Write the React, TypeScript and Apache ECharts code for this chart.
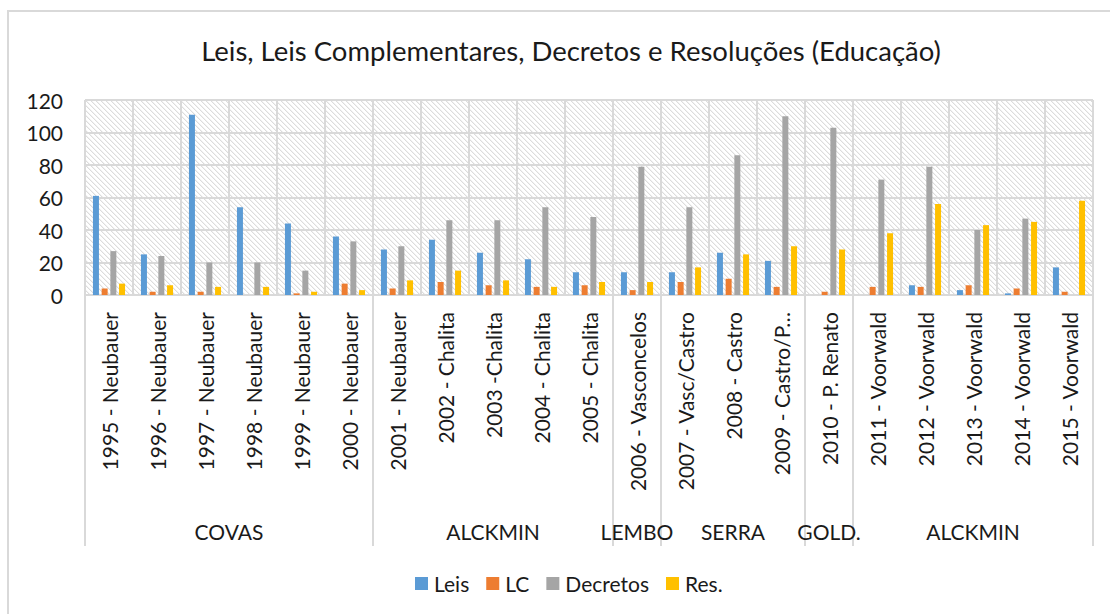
import React, { useEffect, useRef } from "react";
import * as echarts from "echarts";

const categories = [
  "1995 - Neubauer", "1996 - Neubauer", "1997 - Neubauer", "1998 - Neubauer",
  "1999 - Neubauer", "2000 - Neubauer", "2001 - Neubauer", "2002 - Chalita",
  "2003 -Chalita", "2004 - Chalita", "2005 - Chalita", "2006 - Vasconcelos",
  "2007 - Vasc/Castro", "2008 - Castro", "2009 - Castro/P…", "2010 - P. Renato",
  "2011 - Voorwald", "2012 - Voorwald", "2013 - Voorwald", "2014 - Voorwald",
  "2015 - Voorwald",
];

const leis = [61, 25, 111, 54, 44, 36, 28, 34, 26, 22, 14, 14, 14, 26, 21, 0, 0, 6, 3, 1, 17];
const lc = [4, 2, 2, 0, 1, 7, 4, 8, 6, 5, 6, 3, 8, 10, 5, 2, 5, 5, 6, 4, 2];
const decretos = [27, 24, 20, 20, 15, 33, 30, 46, 46, 54, 48, 79, 54, 86, 110, 103, 71, 79, 40, 47, 0];
const res = [7, 6, 5, 5, 2, 3, 9, 15, 9, 5, 8, 8, 17, 25, 30, 28, 38, 56, 43, 45, 58];

const groupNames = ["COVAS", "ALCKMIN", "LEMBO", "SERRA", "GOLD.", "ALCKMIN"];
const groupSizes = [6, 5, 1, 3, 1, 5];

const yTicks = { min: 0, max: 120, interval: 20 };

const FONT = "Lato";
const TXT = "#1a1a1a";
const GRID = "#d9d9d9";

function makeHatch(): string {
  const c = document.createElement("canvas");
  const n = 5;
  c.width = n;
  c.height = n;
  const ctx = c.getContext("2d")!;
  const img = ctx.createImageData(n, n);
  for (let y = 0; y < n; y++) {
    for (let x = 0; x < n; x++) {
      const d = (x - y + n * 2) % n;
      const i = (y * n + x) * 4;
      let v = 255;
      if (d === 0) v = 220;
      else if (d === 1) v = 242;
      img.data[i] = v;
      img.data[i + 1] = v;
      img.data[i + 2] = v;
      img.data[i + 3] = 255;
    }
  }
  ctx.putImageData(img, 0, 0);
  return c.toDataURL("image/png");
}

export default function App() {
  const ref = useRef<HTMLDivElement>(null);
  useEffect(() => {
    if (!ref.current) return;
    const chart = echarts.init(ref.current, null, { renderer: "svg" });
    const gridLeft = 85, gridTop = 100, gridW = 1008, gridH = 195;
    const hatch = makeHatch();
    const mk = (name: string, data: number[], color: string) => ({
      name,
      type: "bar",
      data,
      barWidth: 6,
      barGap: "45%",
      itemStyle: { color },
    });
    chart.setOption({
      animation: false,
      backgroundColor: "#ffffff",
      title: {
        text: "Leis, Leis Complementares, Decretos e Resoluções (Educação)",
        left: 566,
        textAlign: "center",
        top: 31,
        textStyle: { fontFamily: FONT, fontSize: 27.5, fontWeight: "normal", color: TXT },
      },
      legend: {
        left: 410,
        top: 568,
        itemWidth: 13,
        itemHeight: 13,
        itemGap: 17,
        icon: "rect",
        textStyle: { fontFamily: FONT, fontSize: 21, color: TXT, padding: [0, 0, 0, 1] },
      },
      grid: { left: gridLeft, top: gridTop, width: gridW, height: gridH, containLabel: false },
      xAxis: {
        type: "category",
        data: categories,
        axisLine: { show: true, lineStyle: { color: GRID, width: 2 } },
        axisTick: { show: false },
        splitLine: { show: true, interval: 0, lineStyle: { color: GRID, width: 2 } },
        axisLabel: {
          interval: 0,
          rotate: 90,
          margin: 17,
          fontFamily: FONT,
          fontSize: 21,
          color: TXT,
        },
      },
      yAxis: {
        type: "value",
        min: yTicks.min,
        max: yTicks.max,
        interval: yTicks.interval,
        axisLine: { show: false },
        axisTick: { show: false },
        splitLine: { show: true, lineStyle: { color: GRID, width: 2 } },
        axisLabel: { margin: 22, fontFamily: FONT, fontSize: 21, color: TXT },
      },
      series: [
        mk("Leis", leis, "#5b9bd5"),
        mk("LC", lc, "#ed7d31"),
        mk("Decretos", decretos, "#a5a5a5"),
        mk("Res.", res, "#ffc000"),
      ],
    });

    const c0 = chart.convertToPixel({ xAxisIndex: 0 }, 0) as number;
    const c1 = chart.convertToPixel({ xAxisIndex: 0 }, 1) as number;
    const band = c1 - c0;
    const axisY = gridTop + gridH;
    const elements: any[] = [
      {
        type: "rect",
        silent: true,
        z: -10,
        shape: { x: gridLeft, y: gridTop, width: gridW, height: gridH },
        style: {
          fill: { image: hatch, repeat: "repeat", imageWidth: 5, imageHeight: 5 },
        },
      },
      {
        type: "rect",
        silent: true,
        shape: { x: 8, y: 11, width: 1300, height: 800 },
        style: { fill: "none", stroke: GRID, lineWidth: 2 },
      },
    ];
    let start = 0;
    const boundary = (idx: number) => c0 + (idx - 0.5) * band;
    elements.push({
      type: "line",
      silent: true,
      shape: { x1: boundary(0), y1: axisY, x2: boundary(0), y2: 546 },
      style: { stroke: GRID, lineWidth: 2 },
    });
    groupNames.forEach((g, k) => {
      const end = start + groupSizes[k];
      const xs = boundary(start);
      const xe = boundary(end);
      elements.push({
        type: "line",
        silent: true,
        shape: { x1: xe, y1: axisY, x2: xe, y2: 546 },
        style: { stroke: GRID, lineWidth: 2 },
      });
      elements.push({
        type: "text",
        silent: true,
        x: (xs + xe) / 2,
        y: 531,
        style: {
          text: g,
          fontFamily: FONT,
          fontSize: 21,
          fill: TXT,
          align: "center",
          verticalAlign: "middle",
        },
      });
      start = end;
    });
    chart.setOption({ graphic: { elements } });
    return () => chart.dispose();
  }, []);
  return (
    <div
      ref={ref}
      style={{ position: "fixed", left: 0, top: 0, width: 1110, height: 614 }}
    />
  );
}
